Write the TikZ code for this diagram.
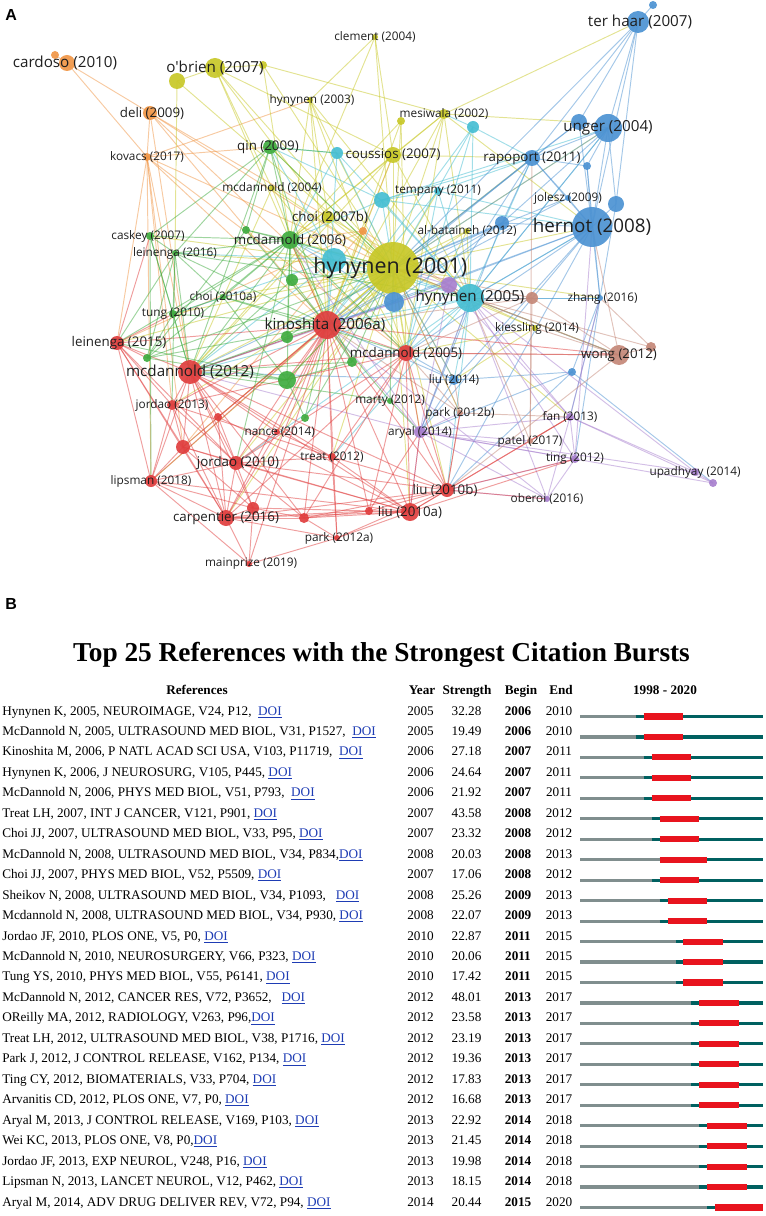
\documentclass[tikz,border=0pt]{standalone}
\usepackage{fontspec}
\setmainfont{Liberation Serif}
\newfontfamily\vos{Open Sans}
\newfontfamily\arial{Liberation Sans}
\definecolor{cR}{RGB}{224,62,62}
\definecolor{cG}{RGB}{64,172,64}
\definecolor{cB}{RGB}{76,146,210}
\definecolor{cY}{RGB}{200,200,40}
\definecolor{cC}{RGB}{70,190,210}
\definecolor{cO}{RGB}{240,150,70}
\definecolor{cP}{RGB}{168,128,206}
\definecolor{cN}{RGB}{196,136,120}
\definecolor{barG}{RGB}{128,142,142}
\definecolor{barT}{RGB}{0,96,96}
\definecolor{barR}{RGB}{232,20,30}
\definecolor{doi}{RGB}{30,60,180}
\newcommand{\brow}[6]{%
  \pgfmathsetmacro{\ry}{710.5+(#1-1)*20.46}%
  \pgfmathsetmacro{\xa}{580+(#3-1998)*7.96}%
  \pgfmathsetmacro{\xb}{580+(#5-1998)*7.96}%
  \pgfmathsetmacro{\xc}{580+(#6-1997)*7.96}%
  \node[reftxt] (ref#1) at (2,\ry+4.5) {#2};
  \node[numtxt] (yr#1) at (420.5,\ry+4.5) {#3};
  \node[numtxt] (st#1) at (466.5,\ry+4.5) {#4};
  \node[numtxt,font=\fontsize{9.9}{11}\selectfont\bfseries] (bg#1) at (518,\ry+4.5) {#5};
  \node[numtxt] (en#1) at (559,\ry+4.5) {#6};
  \coordinate (b0#1) at (580,\ry+6);
  \coordinate (b1#1) at (\xa,\ry+6);
  \coordinate (b2#1) at (\xb,\ry+6);
  \coordinate (b3#1) at (\xc,\ry+6);
  \coordinate (b4#1) at (763,\ry+6);
  \draw[barg] (b0#1) -- (b1#1);
  \draw[bart] (b1#1) -- (b4#1);
  \draw[barr] (b2#1) -- (b3#1);
}
\newcommand{\doi}{\textcolor{doi}{\underline{DOI}}}
\begin{document}
\begin{tikzpicture}[x=0.75pt,y=-0.75pt,
  ed/.style={line width=0.72pt, draw opacity=0.5},
  nd/.style={fill opacity=0.92},
  lS/.style={font=\vos\fontsize{8.85}{10}\selectfont, text=black!88, inner sep=0},
  lM/.style={font=\vos\fontsize{10}{11}\selectfont, text=black!88, inner sep=0},
  lL/.style={font=\vos\fontsize{11.4}{12}\selectfont, text=black!88, inner sep=0},
  lXL/.style={font=\vos\fontsize{14.1}{15}\selectfont, text=black!88, inner sep=0},
  lXXL/.style={font=\vos\fontsize{16.1}{17}\selectfont, text=black!88, inner sep=0},
  reftxt/.style={anchor=base west, inner sep=0, font=\fontsize{9.9}{11}\selectfont},
  numtxt/.style={anchor=base, inner sep=0, font=\fontsize{9.9}{11}\selectfont},
  hdr/.style={anchor=base, inner sep=0, font=\fontsize{9.9}{11}\selectfont\bfseries},
  barg/.style={barG, line width=2.4pt},
  bart/.style={barT, line width=2.4pt},
  barr/.style={barR, line width=4.6pt}
]
\useasboundingbox (0,0) rectangle (765,1216);

% ---------- node positions ----------
\foreach \n/\x/\y in {or1/55/55, cardoso/67/63, obrien/215/68, ol1/177/81, ol2/263/65,
  clement/375/37, deli/150/113, hyn03/310/100, kovacs/147/157, qin/270/147, cy1/337/153,
  coussios/393/155, ye1/401/121, mesiwala/444/114, cy2/473/127, terhaar/638/22, bl1/653/5,
  unger/608/128, bl2/579/122, rapoport/532/158, bl3/587/166, tempany/438/191, cy3/382/200,
  jolesz/568/198, bl4/616/204, hernot/592/227, bl5/502/223, mcd04/272/188, choi07b/328/217,
  or2/363/231, albat/467/231, caskey/150/236, gr1/246/230, mcd06/290/240, lein16/175/253,
  cy4/334/260, h01/393/268, gr2/292/280, pu1/449/285, bl6/394/302, h05/470/298, br1/532/298,
  zhang/600/298, choi10a/223/297, tung/173/314, kino/327/325, gr3/287/337, kies/535/328,
  lein15/117/343, gr4/147/358, mcd05/406/353, gr5/352/362, wong/619/355, br2/651/347,
  mcd12/190/372, gr6/287/380, liu14/454/380, bl7/572/372, marty/390/401, jor13/172/405,
  parkb/460/413, red1/218/417, gr7/305/418, fan/570/417, aryal/420/432, nance/277/432,
  patel/530/441, red2/183/447, treat/332/457, ting/575/459, jor10/236/463, upad/695/472,
  pu2/713/483, lipsman/151/481, liub/447/490, oberoi/547/499, liua/410/512, red3/253/508,
  carp/226/518, red4/304/518, red5/369/511, parka/337/538, mainprize/249/564}
  {\coordinate (\n) at (\x,\y);}

% ---------- edges ----------
% orange
\foreach \a/\b in {cardoso/deli, cardoso/kovacs, cardoso/or1, deli/kovacs, deli/h01, deli/kino,
  deli/mcd12, deli/choi07b, deli/mcd05, kovacs/h01, kovacs/kino, kovacs/lipsman, kovacs/jor13,
  kovacs/lein15, kovacs/qin, kovacs/mcd12, kovacs/hyn03, kovacs/mcd05, kovacs/red2, or2/h01,
  or2/kino, or2/red2, or2/mcd06, or2/h05, or2/coussios, or2/lein15}
  {\draw[ed,cO] (\a) -- (\b);}
% yellow
\foreach \a/\b in {obrien/ol1, obrien/ol2, obrien/h01, obrien/coussios, obrien/mcd04,
  obrien/choi07b, obrien/kino, ol1/h01, ol1/lein16, ol2/h01, ol2/mesiwala, ol2/mcd06,
  clement/hyn03, clement/h01, clement/coussios, clement/mcd06, hyn03/h01, hyn03/mcd06,
  hyn03/kino, hyn03/choi07b, hyn03/mcd05, hyn03/h05, mesiwala/h01, mesiwala/terhaar,
  mesiwala/coussios, mesiwala/h05, mesiwala/kino, mesiwala/mcd06, mesiwala/bl2,
  mesiwala/mcd05, mesiwala/hernot, ye1/h01, ye1/kino, ye1/mcd05, ye1/mcd06, coussios/h01,
  coussios/cy1, coussios/h05, coussios/mcd06, coussios/kino, coussios/rapoport,
  coussios/mcd12, mcd04/h01, mcd04/kino, mcd04/mcd05, mcd04/mcd12, choi07b/h01,
  choi07b/kino, choi07b/mcd06, choi07b/mcd12, choi07b/mcd05, choi07b/h05, albat/h01,
  albat/h05, albat/mcd05, albat/kino, kies/h01, kies/h05, kies/mcd05, kies/liu14,
  h01/kino, h01/mcd06, h01/mcd12, h01/mcd05, h01/h05, h01/hernot, h01/unger,
  h01/rapoport, h01/tempany, h01/lein15, h01/jor10, h01/treat, h01/liua, h01/liub,
  h01/aryal, h01/gr6, h01/caskey, h01/tung, h01/choi10a, h01/qin, h01/wong, h01/jor13,
  h01/carp, h01/lipsman, h01/nance, h01/liu14, h01/lein16, h01/red2, h01/zhang,
  h01/parkb, h01/fan}
  {\draw[ed,cY] (\a) -- (\b);}
% cyan
\foreach \a/\b in {cy1/h01, cy1/qin, cy1/h05, cy1/kino, cy1/mcd06, cy2/h01, cy2/h05,
  cy2/rapoport, cy2/mesiwala, cy2/kino, cy2/mcd05, cy3/h01, cy3/h05, cy3/hernot, cy3/mcd06,
  cy3/tempany, cy3/kino, cy3/qin, cy3/rapoport, cy3/unger, tempany/h05, tempany/rapoport,
  tempany/hernot, tempany/kino, tempany/mcd05, cy4/h05, cy4/mcd06, cy4/kino, cy4/mcd12,
  cy4/tung, cy4/h01, cy4/lein16, cy4/qin, h05/hernot, h05/kino, h05/mcd05, h05/mcd12,
  h05/rapoport, h05/unger, h05/liu14, h05/aryal, h05/wong, h05/mcd06, h05/liub, h05/jor10,
  h05/zhang, h05/treat}
  {\draw[ed,cC] (\a) -- (\b);}
% blue
\foreach \a/\b in {terhaar/unger, terhaar/bl1, terhaar/rapoport, terhaar/hernot,
  terhaar/bl4, terhaar/h01, terhaar/bl2, unger/bl2, unger/hernot, unger/bl4, unger/rapoport,
  unger/h01, unger/bl3, unger/bl5, unger/h05, bl2/rapoport, bl2/hernot, bl2/h01,
  rapoport/hernot, rapoport/h01, rapoport/bl5, rapoport/jolesz, rapoport/bl3,
  rapoport/kino, rapoport/mcd05, bl3/hernot, bl3/zhang, jolesz/h01, jolesz/hernot,
  jolesz/kino, bl4/hernot, bl4/zhang, hernot/bl5, hernot/h05, hernot/zhang, hernot/bl6,
  hernot/kino, hernot/mcd05, hernot/liu14, hernot/aryal, hernot/liub, bl5/h01, bl5/bl6,
  bl5/kino, bl5/mcd12, bl5/aryal, zhang/bl7, zhang/fan, zhang/ting, zhang/h05,
  bl7/liu14, bl7/aryal, bl7/pu2, bl7/liub, bl6/h01, bl6/kino, bl6/mcd12, bl6/mcd06,
  liu14/h01, liu14/kino, liu14/aryal, liu14/mcd05, liu14/mcd12}
  {\draw[ed,cB] (\a) -- (\b);}
% purple
\foreach \a/\b in {pu1/h01, pu1/h05, pu1/kino, pu1/aryal, pu1/fan, pu1/mcd12, aryal/fan,
  aryal/ting, aryal/oberoi, aryal/h05, aryal/kino, aryal/liua, aryal/upad, aryal/mcd12,
  aryal/parkb, aryal/patel, aryal/mcd06, fan/ting, fan/upad, fan/h05, fan/zhang,
  fan/oberoi, ting/oberoi, ting/h05, ting/liub, ting/hernot, upad/pu2, upad/h05,
  oberoi/h05, oberoi/liub, pu2/fan, pu2/aryal, oberoi/kino}
  {\draw[ed,cP] (\a) -- (\b);}
% brown
\foreach \a/\b in {br1/h01, br1/h05, br1/wong, br1/patel, br1/kino, br1/mcd05, wong/br2,
  wong/h01, wong/h05, wong/hernot, wong/liub, wong/kies, wong/mcd05, br2/h05, br2/zhang,
  patel/h05, patel/fan, patel/rapoport, parkb/h01, parkb/liu14, parkb/mcd05, parkb/kino,
  parkb/fan, parkb/liub}
  {\draw[ed,cN] (\a) -- (\b);}
% red
\foreach \a/\b in {kino/mcd12, kino/mcd06, kino/mcd05, kino/lein15, kino/jor10, kino/jor13,
  kino/lipsman, kino/carp, kino/treat, kino/liua, kino/liub, kino/nance, kino/red1,
  kino/red2, kino/red3, kino/red4, kino/parka, kino/mainprize, kino/gr6, kino/wong,
  kino/red5, mcd12/lein15, mcd12/jor13, mcd12/jor10, mcd12/lipsman, mcd12/carp,
  mcd12/red2, mcd12/red1, mcd12/treat, mcd12/liua, mcd12/mcd05, mcd12/nance, mcd12/red4,
  mcd12/red3, mcd12/liub, mcd05/liua, mcd05/liub, mcd05/treat, mcd05/aryal, mcd05/jor10,
  mcd05/carp, mcd05/wong, mcd05/red5, mcd05/red4, mcd05/jor13, lein15/tung,
  lein15/lipsman, lein15/jor13, lein15/red2, lein15/gr4, lein15/caskey, lein15/carp,
  lein15/jor10, jor13/red2, jor13/jor10, jor13/lipsman, jor13/carp, jor13/treat,
  red1/jor10, red1/carp, red1/liua, red2/jor10, red2/lipsman, red2/carp, red2/red3,
  red2/liua, jor10/carp, jor10/red3, jor10/red4, jor10/treat, jor10/liua, jor10/lipsman,
  jor10/liub, lipsman/carp, lipsman/mainprize, lipsman/red3, lipsman/liua, carp/mainprize,
  carp/red3, carp/red4, carp/parka, carp/liua, carp/red5, carp/liub, red3/mainprize,
  red3/red4, red3/liua, red4/parka, red4/liua, red4/red5, red4/liub, red5/liua, red5/liub,
  parka/liua, parka/mainprize, parka/treat, parka/liub, treat/liua, treat/liub,
  treat/nance, liua/liub, liua/aryal, liub/aryal, liub/ting, liub/fan, liub/parkb,
  nance/jor10, nance/carp, liub/oberoi, liua/ting, liua/fan, red5/aryal}
  {\draw[ed,cR] (\a) -- (\b);}
% green
\foreach \a/\b in {mcd06/qin, mcd06/gr1, mcd06/caskey, mcd06/lein16, mcd06/tung,
  mcd06/choi10a, mcd06/gr2, mcd06/gr3, mcd06/gr6, mcd06/mcd12, mcd06/gr5, mcd06/lein15,
  mcd06/mcd05, mcd06/jor10, qin/caskey, qin/lein16, qin/gr1, qin/h01, qin/kino, qin/mcd12,
  qin/cy1, caskey/lein16, caskey/tung, caskey/lipsman, caskey/mcd12, lein16/tung,
  lein16/lein15, lein16/gr4, lein16/choi10a, lein16/mcd12, lein16/kino, lein16/jor13,
  lein16/h05, gr1/h01, gr1/kino, gr1/gr4, tung/gr4, tung/mcd12, tung/choi10a, tung/kino,
  choi10a/kino, choi10a/gr6, choi10a/mcd05, gr2/h01, gr2/kino, gr2/mcd12, gr3/kino,
  gr3/mcd12, gr3/h01, gr4/kino, gr4/mcd06, gr4/h01, gr4/gr6, gr5/h01, gr5/kino, gr5/mcd12,
  gr6/mcd12, gr6/h01, gr6/gr7, gr6/lein15, gr7/h01, gr7/kino, marty/h01, marty/kino,
  marty/aryal, marty/mcd12, gr5/gr6}
  {\draw[ed,cG] (\a) -- (\b);}

% ---------- nodes ----------
\foreach \n/\r/\c in {or1/4/cO, cardoso/8/cO, obrien/10/cY, ol1/8/cY, ol2/4/cY,
  clement/3/cY, deli/7/cO, hyn03/3/cY, kovacs/4/cO, qin/7/cG, cy1/6/cC, coussios/8/cY,
  ye1/4/cY, mesiwala/5/cY, cy2/6/cC, terhaar/11/cB, bl1/4/cB, unger/14/cB, bl2/8/cB,
  rapoport/8/cB, bl3/4/cB, tempany/4/cC, cy3/8/cC, jolesz/3/cB, bl4/8/cB, hernot/20/cB,
  bl5/7/cB, mcd04/3/cY, choi07b/6/cY, or2/4/cO, albat/3/cY, caskey/4/cG, gr1/4/cG,
  mcd06/9/cG, lein16/3/cG, cy4/12/cC, h01/26/cY, gr2/6/cG, pu1/8/cP, bl6/10/cB, h05/14/cC,
  br1/6/cN, zhang/3/cB, choi10a/3/cG, tung/4/cG, kino/14/cR, gr3/6/cG, kies/3/cY,
  lein15/7/cR, gr4/4/cG, mcd05/8/cR, gr5/5/cG, wong/10/cN, br2/5/cN, mcd12/12/cR,
  gr6/9/cG, liu14/5/cB, bl7/4/cB, marty/3/cG, jor13/5/cR, parkb/3/cN, red1/4/cR,
  gr7/4/cG, fan/4/cP, aryal/6/cP, nance/3/cR, patel/3/cN, red2/7/cR, treat/4/cR,
  ting/4/cP, jor10/7/cR, upad/4/cP, pu2/4/cP, lipsman/6/cR, liub/7/cR, oberoi/3/cP,
  liua/9/cR, red3/6/cR, carp/8/cR, red4/5/cR, red5/4/cR, parka/3/cR, mainprize/3/cR}
  {\fill[nd,\c] (\n) circle[radius=\r];}

% ---------- labels ----------
\node[lL] (t-cardoso) at ([xshift=-1.5pt]cardoso) {cardoso (2010)};
\node[lL] (t-obrien) at (obrien) {o'brien (2007)};
\node[lS] (t-clement) at (clement) {clement (2004)};
\node[lM] (t-deli) at ([xshift=1.5pt]deli) {deli (2009)};
\node[lS] (t-hyn03) at ([xshift=1.5pt]hyn03) {hynynen (2003)};
\node[lS] (t-kovacs) at (kovacs) {kovacs (2017)};
\node[lM] (t-qin) at ([xshift=-1.5pt]qin) {qin (2009)};
\node[lM] (t-coussios) at (coussios) {coussios (2007)};
\node[lS] (t-mesiwala) at (mesiwala) {mesiwala (2002)};
\node[lL] (t-terhaar) at ([xshift=1.5pt]terhaar) {ter haar (2007)};
\node[lL] (t-unger) at (unger) {unger (2004)};
\node[lM] (t-rapoport) at (rapoport) {rapoport (2011)};
\node[lS] (t-tempany) at (tempany) {tempany (2011)};
\node[lS] (t-jolesz) at (jolesz) {jolesz (2009)};
\node[lXL] (t-hernot) at (hernot) {hernot (2008)};
\node[lS] (t-mcd04) at (mcd04) {mcdannold (2004)};
\node[lM] (t-choi07b) at ([xshift=1.5pt]choi07b) {choi (2007b)};
\node[lS] (t-albat) at (albat) {al-bataineh (2012)};
\node[lS] (t-caskey) at ([xshift=-1.5pt]caskey) {caskey (2007)};
\node[lM] (t-mcd06) at (mcd06) {mcdannold (2006)};
\node[lS] (t-lein16) at (lein16) {leinenga (2016)};
\node[lXXL] (t-h01) at ([xshift=-2pt]h01) {hynynen (2001)};
\node[lL] (t-h05) at (h05) {hynynen (2005)};
\node[lS] (t-zhang) at ([xshift=2pt]zhang) {zhang (2016)};
\node[lS] (t-choi10a) at (choi10a) {choi (2010a)};
\node[lS] (t-tung) at (tung) {tung (2010)};
\node[lL] (t-kino) at ([xshift=-1.5pt]kino) {kinoshita (2006a)};
\node[lS] (t-kies) at ([xshift=1.5pt]kies) {kiessling (2014)};
\node[lM] (t-lein15) at ([xshift=1.5pt]lein15) {leinenga (2015)};
\node[lM] (t-mcd05) at (mcd05) {mcdannold (2005)};
\node[lM] (t-wong) at (wong) {wong (2012)};
\node[lL] (t-mcd12) at (mcd12) {mcdannold (2012)};
\node[lS] (t-liu14) at (liu14) {liu (2014)};
\node[lS] (t-marty) at (marty) {marty (2012)};
\node[lS] (t-jor13) at (jor13) {jordao (2013)};
\node[lS] (t-parkb) at (parkb) {park (2012b)};
\node[lS] (t-fan) at (fan) {fan (2013)};
\node[lS] (t-aryal) at (aryal) {aryal (2014)};
\node[lS] (t-nance) at ([xshift=2pt]nance) {nance (2014)};
\node[lS] (t-patel) at (patel) {patel (2017)};
\node[lS] (t-treat) at (treat) {treat (2012)};
\node[lS] (t-ting) at (ting) {ting (2012)};
\node[lM] (t-jor10) at ([xshift=1.5pt]jor10) {jordao (2010)};
\node[lS] (t-upad) at (upad) {upadhyay (2014)};
\node[lS] (t-lipsman) at (lipsman) {lipsman (2018)};
\node[lM] (t-liub) at ([xshift=-1.5pt]liub) {liu (2010b)};
\node[lS] (t-oberoi) at (oberoi) {oberoi (2016)};
\node[lM] (t-liua) at (liua) {liu (2010a)};
\node[lM] (t-carp) at (carp) {carpentier (2016)};
\node[lS] (t-parka) at ([xshift=1.5pt]parka) {park (2012a)};
\node[lS] (t-mainprize) at ([xshift=1.5pt]mainprize) {mainprize (2019)};

% ---------- panel letters ----------
\node[anchor=base west, inner sep=0, font=\arial\bfseries\fontsize{12}{13}\selectfont] (pA) at (5,20.5) {A};
\node[anchor=base west, inner sep=0, font=\arial\bfseries\fontsize{12}{13}\selectfont] (pB) at (5,609) {B};

% ---------- table ----------
\node[anchor=base, inner sep=0, font=\fontsize{20.5}{22}\selectfont\bfseries] (title) at (381.5,661) {Top 25 References with the Strongest Citation Bursts};
\node[hdr] (hRef) at (197,694.5) {References};
\node[hdr] (hYear) at (422,694.5) {Year};
\node[hdr] (hStr) at (467,694.5) {Strength};
\node[hdr] (hBeg) at (521,694.5) {Begin};
\node[hdr] (hEnd) at (561,694.5) {End};
\node[hdr] (hRange) at (665,694.5) {1998 - 2020};

\brow{1}{Hynynen K, 2005, NEUROIMAGE, V24, P12,~~\doi}{2005}{32.28}{2006}{2010}
\brow{2}{McDannold N, 2005, ULTRASOUND MED BIOL, V31, P1527,~~\doi}{2005}{19.49}{2006}{2010}
\brow{3}{Kinoshita M, 2006, P NATL ACAD SCI USA, V103, P11719,~~\doi}{2006}{27.18}{2007}{2011}
\brow{4}{Hynynen K, 2006, J NEUROSURG, V105, P445,~\doi}{2006}{24.64}{2007}{2011}
\brow{5}{McDannold N, 2006, PHYS MED BIOL, V51, P793,~~\doi}{2006}{21.92}{2007}{2011}
\brow{6}{Treat LH, 2007, INT J CANCER, V121, P901,~\doi}{2007}{43.58}{2008}{2012}
\brow{7}{Choi JJ, 2007, ULTRASOUND MED BIOL, V33, P95,~\doi}{2007}{23.32}{2008}{2012}
\brow{8}{McDannold N, 2008, ULTRASOUND MED BIOL, V34, P834,\doi}{2008}{20.03}{2008}{2013}
\brow{9}{Choi JJ, 2007, PHYS MED BIOL, V52, P5509,~\doi}{2007}{17.06}{2008}{2012}
\brow{10}{Sheikov N, 2008, ULTRASOUND MED BIOL, V34, P1093,~~~\doi}{2008}{25.26}{2009}{2013}
\brow{11}{Mcdannold N, 2008, ULTRASOUND MED BIOL, V34, P930,~\doi}{2008}{22.07}{2009}{2013}
\brow{12}{Jordao JF, 2010, PLOS ONE, V5, P0,~\doi}{2010}{22.87}{2011}{2015}
\brow{13}{McDannold N, 2010, NEUROSURGERY, V66, P323,~\doi}{2010}{20.06}{2011}{2015}
\brow{14}{Tung YS, 2010, PHYS MED BIOL, V55, P6141,~\doi}{2010}{17.42}{2011}{2015}
\brow{15}{McDannold N, 2012, CANCER RES, V72, P3652,~~~\doi}{2012}{48.01}{2013}{2017}
\brow{16}{OReilly MA, 2012, RADIOLOGY, V263, P96,\doi}{2012}{23.58}{2013}{2017}
\brow{17}{Treat LH, 2012, ULTRASOUND MED BIOL, V38, P1716,~\doi}{2012}{23.19}{2013}{2017}
\brow{18}{Park J, 2012, J CONTROL RELEASE, V162, P134,~\doi}{2012}{19.36}{2013}{2017}
\brow{19}{Ting CY, 2012, BIOMATERIALS, V33, P704,~\doi}{2012}{17.83}{2013}{2017}
\brow{20}{Arvanitis CD, 2012, PLOS ONE, V7, P0,~\doi}{2012}{16.68}{2013}{2017}
\brow{21}{Aryal M, 2013, J CONTROL RELEASE, V169, P103,~\doi}{2013}{22.92}{2014}{2018}
\brow{22}{Wei KC, 2013, PLOS ONE, V8, P0,\doi}{2013}{21.45}{2014}{2018}
\brow{23}{Jordao JF, 2013, EXP NEUROL, V248, P16,~\doi}{2013}{19.98}{2014}{2018}
\brow{24}{Lipsman N, 2013, LANCET NEUROL, V12, P462,~\doi}{2013}{18.15}{2014}{2018}
\brow{25}{Aryal M, 2014, ADV DRUG DELIVER REV, V72, P94,~\doi}{2014}{20.44}{2015}{2020}
\end{tikzpicture}
\end{document}
